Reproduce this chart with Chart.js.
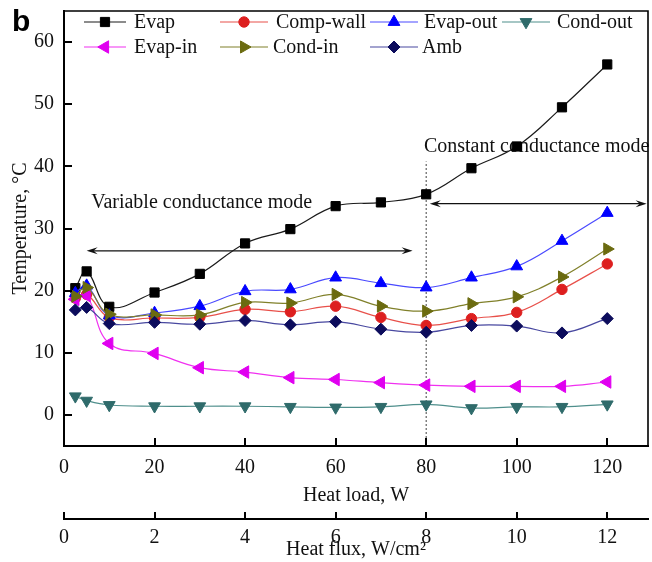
<!DOCTYPE html>
<html><head><meta charset="utf-8">
<script src="https://cdn.jsdelivr.net/npm/chart.js@4.4.1/dist/chart.umd.min.js"></script>
<style>html,body{margin:0;padding:0;background:#fff}canvas{display:block}</style>
</head><body>
<canvas id="c" width="652" height="562"></canvas>
<script>
// ---- data ----
const heatLoad = [2.5, 5, 10, 20, 30, 40, 50, 60, 70, 80, 90, 100, 110, 120];
const evap     = [20.4, 23.1, 17.4, 19.7, 22.7, 27.6, 29.9, 33.6, 34.2, 35.5, 39.7, 43.2, 49.5, 56.4];
const compWall = [18.8, 19.4, 15.7, 15.6, 15.7, 17.0, 16.6, 17.5, 15.7, 14.4, 15.5, 16.5, 20.2, 24.3];
const evapOut  = [19.6, 20.8, 16.0, 16.4, 17.5, 19.9, 20.2, 22.1, 21.2, 20.5, 22.1, 23.9, 28.0, 32.5];
const condOut  = [3.0, 2.3, 1.6, 1.4, 1.4, 1.4, 1.3, 1.2, 1.3, 1.7, 1.1, 1.3, 1.3, 1.7];
const evapIn   = [18.6, 19.2, 11.5, 9.9, 7.6, 6.9, 6.0, 5.7, 5.2, 4.8, 4.6, 4.6, 4.6, 5.3];
const condIn   = [19.1, 20.5, 16.2, 16.1, 16.1, 18.1, 18.0, 19.4, 17.5, 16.7, 17.9, 19.0, 22.2, 26.7];
const amb      = [16.9, 17.3, 14.7, 14.9, 14.6, 15.2, 14.5, 15.0, 13.8, 13.3, 14.4, 14.3, 13.2, 15.5];

const seriesNames = ['Evap', 'Comp-wall', 'Evap-out', 'Cond-out', 'Evap-in', 'Cond-in', 'Amb'];
const seriesValues = [evap, compWall, evapOut, condOut, evapIn, condIn, amb];

const xTicks = [0, 20, 40, 60, 80, 100, 120];
const fluxTicks = [0, 2, 4, 6, 8, 10, 12];
const yTicks = [0, 10, 20, 30, 40, 50, 60];

// mode boundary & annotation positions (data units)
const modeBoundaryX = 80;
const modeBoundaryTop = 40.8;
const variableArrow = [5, 77];
const variableArrowY = 26.4;
const constantArrow = [80.8, 128.7];
const constantArrowY = 34.0;
const variableLabel = {text: 'Variable conductance mode', x: 6.0, y: 34.2};
const constantLabel = {text: 'Constant conductance mode', x: 79.5, y: 43.1};

// ---- styles ----
const styles = [
  {line: '#1a1a1a', fill: '#000000', pointStyle: 'rect', rotation: 0, radius: 6.5},
  {line: '#e8504a', fill: '#dd1f1f', pointStyle: 'circle', rotation: 0, radius: 5.2},
  {line: '#4a4aff', fill: '#0000ff', pointStyle: 'triangle', rotation: 0, radius: 6.8},
  {line: '#4f8f8c', fill: '#2f6b6b', pointStyle: 'triangle', rotation: 180, radius: 6.8},
  {line: '#f030f0', fill: '#e000f0', pointStyle: 'triangle', rotation: -90, radius: 7.2},
  {line: '#80802a', fill: '#6b6b10', pointStyle: 'triangle', rotation: 90, radius: 7.0},
  {line: '#4848a0', fill: '#0c0c5c', pointStyle: 'rectRot', rotation: 0, radius: 6.0}
];
const legendLayout = [
  {x1: 84, x2: 126, tx: 134, y: 22},
  {x1: 220, x2: 268, tx: 276, y: 22},
  {x1: 370, x2: 418, tx: 424, y: 22},
  {x1: 502, x2: 550, tx: 557, y: 22},
  {x1: 84, x2: 126, tx: 134, y: 47},
  {x1: 220, x2: 268, tx: 273, y: 47},
  {x1: 370, x2: 418, tx: 422, y: 47}
];
const FONT = '"Liberation Serif", "Times New Roman", serif';

const datasets = seriesNames.map((name, i) => ({
  label: name,
  data: heatLoad.map((x, k) => ({x: x, y: seriesValues[i][k]})),
  borderColor: styles[i].line,
  backgroundColor: styles[i].fill,
  pointBackgroundColor: styles[i].fill,
  pointBorderColor: styles[i].fill,
  pointBorderWidth: 1,
  pointStyle: styles[i].pointStyle,
  pointRotation: styles[i].rotation,
  pointRadius: styles[i].radius,
  borderWidth: 1.2,
  tension: 0.4,
  fill: false,
  order: seriesNames.length - 1 - i
}));
datasets.push({
  label: 'boundary',
  data: [{x: modeBoundaryX, y: -5}, {x: modeBoundaryX, y: modeBoundaryTop}],
  borderColor: '#444',
  borderWidth: 1,
  borderDash: [2, 2],
  pointRadius: 0,
  tension: 0,
  order: 20
});

function drawArrowHead(ctx, x, y, dir) {
  ctx.beginPath();
  ctx.moveTo(x, y);
  ctx.lineTo(x - dir * 11, y - 3.5);
  ctx.lineTo(x - dir * 7, y);
  ctx.lineTo(x - dir * 11, y + 3.5);
  ctx.closePath();
  ctx.fill();
}

const decor = {
  id: 'decor',
  beforeDatasetsDraw(chart) {
    const {ctx, scales: {x, y}} = chart;
    ctx.save();
    ctx.strokeStyle = '#111';
    ctx.fillStyle = '#111';
    ctx.lineWidth = 1.2;
    [[variableArrow, variableArrowY], [constantArrow, constantArrowY]].forEach(([xs, yv]) => {
      const x1 = x.getPixelForValue(xs[0]), x2 = x.getPixelForValue(xs[1]);
      const py = y.getPixelForValue(yv);
      ctx.beginPath(); ctx.moveTo(x1 + 4, py); ctx.lineTo(x2 - 4, py); ctx.stroke();
      drawArrowHead(ctx, x1, py, -1);
      drawArrowHead(ctx, x2, py, 1);
    });
    ctx.font = '20px ' + FONT;
    ctx.textBaseline = 'middle';
    ctx.textAlign = 'left';
    [variableLabel, constantLabel].forEach(l => {
      ctx.fillText(l.text, x.getPixelForValue(l.x), y.getPixelForValue(l.y));
    });
    ctx.restore();
  },
  afterDraw(chart) {
    const {ctx, chartArea: ca, scales} = chart;
    ctx.save();
    // frame top/right
    ctx.strokeStyle = '#000';
    ctx.lineWidth = 1.6;
    ctx.beginPath();
    ctx.moveTo(ca.left, ca.top); ctx.lineTo(ca.right, ca.top); ctx.lineTo(ca.right, ca.bottom);
    ctx.stroke();
    // inward ticks
    ctx.lineWidth = 2;
    const TL = 8;
    scales.y.ticks.forEach(t => {
      const p = Math.round(scales.y.getPixelForValue(t.value));
      ctx.beginPath(); ctx.moveTo(ca.left, p); ctx.lineTo(ca.left + TL, p); ctx.stroke();
    });
    scales.x.ticks.forEach(t => {
      const p = Math.round(scales.x.getPixelForValue(t.value));
      ctx.beginPath(); ctx.moveTo(p, ca.bottom); ctx.lineTo(p, ca.bottom - TL); ctx.stroke();
    });
    const x2 = scales.x2;
    x2.ticks.forEach(t => {
      const p = Math.round(x2.getPixelForValue(t.value));
      ctx.beginPath(); ctx.moveTo(p, x2.top + 1); ctx.lineTo(p, x2.top + 1 - TL); ctx.stroke();
    });
    // panel letter
    ctx.fillStyle = '#000';
    ctx.font = 'bold 30px "Liberation Sans", Arial, sans-serif';
    ctx.textBaseline = 'alphabetic';
    ctx.textAlign = 'left';
    ctx.fillText('b', 12, 31);
    // legend
    const dp = Chart.helpers && Chart.helpers.drawPoint;
    ctx.font = '20px ' + FONT;
    ctx.textBaseline = 'middle';
    legendLayout.forEach((L, i) => {
      const ds = chart.data.datasets[i];
      ctx.strokeStyle = ds.borderColor;
      ctx.lineWidth = 1.2;
      ctx.setLineDash([]);
      ctx.beginPath(); ctx.moveTo(L.x1, L.y); ctx.lineTo(L.x2, L.y); ctx.stroke();
      ctx.fillStyle = ds.pointBackgroundColor;
      ctx.strokeStyle = ds.pointBorderColor;
      ctx.lineWidth = 1;
      if (dp) {
        dp(ctx, {pointStyle: ds.pointStyle, rotation: ds.pointRotation, radius: ds.pointRadius, borderWidth: 1}, (L.x1 + L.x2) / 2, L.y);
      }
      ctx.fillStyle = '#111';
      ctx.fillText(ds.label, L.tx, L.y + 1);
    });
    ctx.restore();
  }
};

function noPad(s) { s.paddingTop = 0; s.paddingBottom = 0; s.paddingLeft = 0; s.paddingRight = 0; }
const tickFont = {family: FONT, size: 20};
new Chart(document.getElementById('c'), {
  type: 'line',
  data: {datasets: datasets},
  options: {
    responsive: false,
    animation: false,
    devicePixelRatio: 1,
    layout: {autoPadding: false, padding: {top: 11, right: 4, left: 0, bottom: 0}},
    plugins: {legend: {display: false}, tooltip: {enabled: false}},
    scales: {
      x: {
        type: 'linear', position: 'bottom', min: 0, max: 129, weight: 0,
        afterBuildTicks: s => { s.ticks = xTicks.map(v => ({value: v})); },
        afterFit: s => { s.height = 73; noPad(s); },
        grid: {display: true, drawOnChartArea: false, drawTicks: false, color: 'rgba(0,0,0,0)'},
        border: {display: true, width: 2, color: '#000'},
        ticks: {font: tickFont, color: '#111', padding: 10, maxRotation: 0, autoSkip: false},
        title: {display: true, text: 'Heat load, W', font: tickFont, color: '#111', padding: {top: 0, bottom: 11}}
      },
      x2: {
        type: 'linear', position: 'bottom', min: 0, max: 12.9, weight: 1,
        afterBuildTicks: s => { s.ticks = fluxTicks.map(v => ({value: v})); },
        afterFit: s => { s.height = 43; noPad(s); },
        grid: {display: true, drawOnChartArea: false, drawTicks: false, color: 'rgba(0,0,0,0)'},
        border: {display: true, width: 2, color: '#000'},
        ticks: {font: tickFont, color: '#111', padding: 7, maxRotation: 0, autoSkip: false},
        title: {display: true, text: 'Heat flux, W/cm\u00B2', font: tickFont, color: '#111', padding: {top: 0, bottom: 0}}
      },
      y: {
        type: 'linear', position: 'left', min: -5, max: 65,
        afterBuildTicks: s => { s.ticks = yTicks.map(v => ({value: v})); },
        afterFit: s => { s.width = 64; noPad(s); },
        grid: {display: true, drawOnChartArea: false, drawTicks: false, color: 'rgba(0,0,0,0)'},
        border: {display: true, width: 2, color: '#000'},
        ticks: {font: tickFont, color: '#111', padding: 10},
        title: {display: true, text: 'Temperature, \u00B0C', font: tickFont, color: '#111', padding: {top: 9, bottom: 0}}
      }
    }
  },
  plugins: [decor]
});
</script>
</body></html>
